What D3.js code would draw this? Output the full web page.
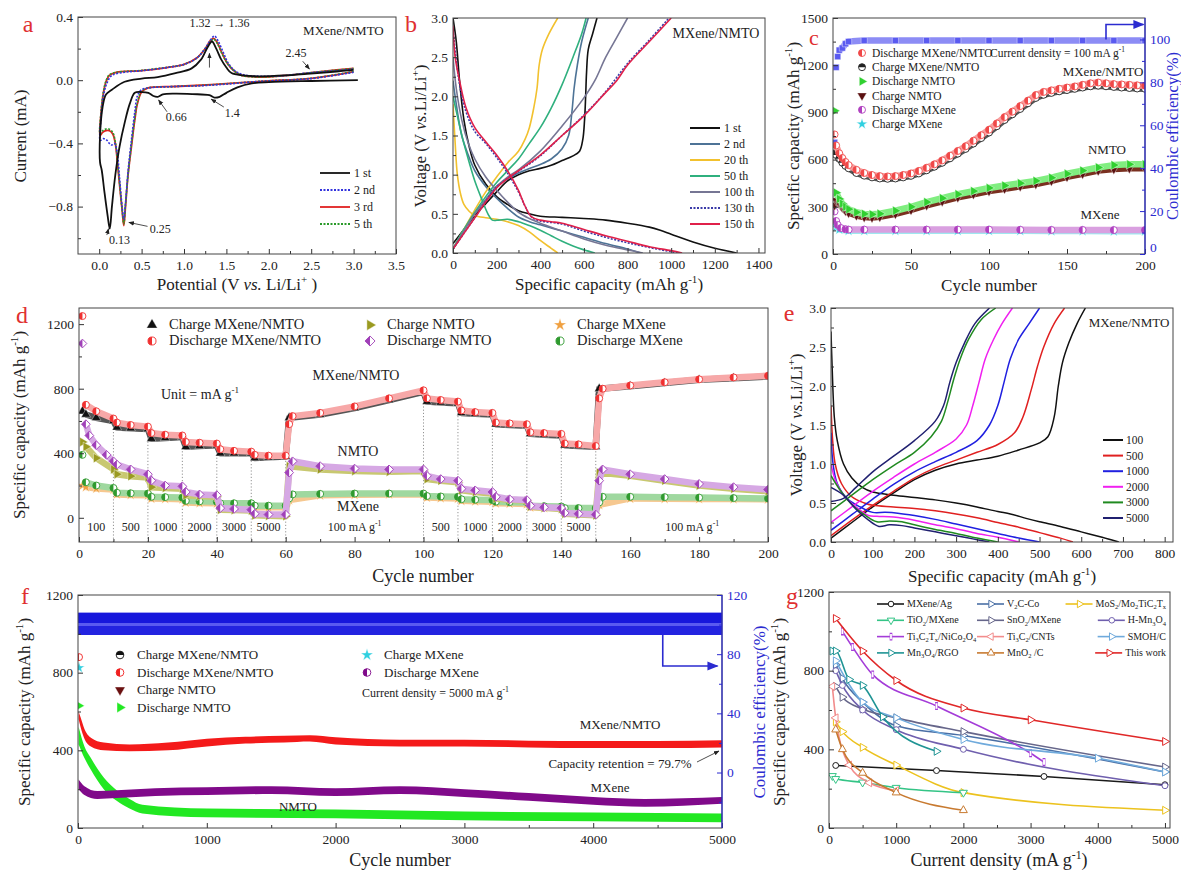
<!DOCTYPE html>
<html>
<head>
<meta charset="utf-8">
<script src="https://cdn.jsdelivr.net/npm/d3@7"></script>
<style>
  body { margin: 0; background: #fff; }
  svg text { font-family: "Liberation Serif", "Times New Roman", serif; }
</style>
</head>
<body>
<svg id="fig" width="1181" height="873"></svg>
<script>
// ---------------- data ----------------
// (a) cyclic voltammetry, [potential V, current mA]
const cvNames = ['1 st', '2 nd', '3 rd', '5 th'];
const cv1 = [[3.05,0],[2.5,-0.005],[2.0,-0.012],[1.8,-0.02],[1.63,-0.045],[1.5,-0.08],[1.42,-0.105],[1.36,-0.11],[1.3,-0.095],[1.1,-0.088],[0.89,-0.085],[0.75,-0.09],[0.69,-0.105],[0.64,-0.1],[0.58,-0.08],[0.5,-0.075],[0.42,-0.08],[0.36,-0.15],[0.3,-0.27],[0.24,-0.42],[0.19,-0.6],[0.15,-0.8],[0.125,-0.94],[0.1,-0.86],[0.06,-0.7],[0.03,-0.57],[0.01,-0.52],[0.01,-0.35],[0.04,-0.17],[0.08,-0.09],[0.15,-0.06],[0.3,-0.01],[0.5,0.01],[0.69,0.02],[0.9,0.045],[1.09,0.075],[1.2,0.13],[1.28,0.21],[1.33,0.245],[1.38,0.2],[1.44,0.13],[1.5,0.08],[1.56,0.045],[1.7,0.03],[1.83,0.025],[2.2,0.03],[2.45,0.04],[2.8,0.055],[3.0,0.065]];
const cv2 = [[3.0,0.05],[2.5,0.01],[2.0,-0.005],[1.83,-0.01],[1.5,-0.025],[1.2,-0.035],[0.89,-0.04],[0.6,-0.048],[0.5,-0.06],[0.45,-0.1],[0.42,-0.2],[0.38,-0.38],[0.34,-0.58],[0.31,-0.78],[0.29,-0.88],[0.27,-0.8],[0.24,-0.62],[0.21,-0.45],[0.18,-0.4],[0.15,-0.41],[0.12,-0.4],[0.09,-0.38],[0.05,-0.37],[0.02,-0.38],[0.01,-0.38],[0.02,-0.25],[0.05,-0.1],[0.09,-0.02],[0.15,0.03],[0.3,0.05],[0.5,0.06],[0.8,0.08],[1.0,0.1],[1.15,0.14],[1.25,0.2],[1.32,0.26],[1.36,0.28],[1.4,0.25],[1.46,0.18],[1.52,0.11],[1.6,0.06],[1.7,0.035],[1.9,0.025],[2.2,0.03],[2.45,0.045],[2.8,0.06],[3.0,0.07]];
const cv3 = [[3.0,0.055],[2.5,0.012],[2.0,-0.004],[1.83,-0.01],[1.5,-0.022],[1.2,-0.032],[0.89,-0.04],[0.57,-0.05],[0.5,-0.075],[0.45,-0.15],[0.42,-0.25],[0.38,-0.42],[0.34,-0.6],[0.31,-0.8],[0.29,-0.92],[0.27,-0.82],[0.24,-0.66],[0.22,-0.55],[0.19,-0.4],[0.16,-0.34],[0.12,-0.32],[0.07,-0.32],[0.04,-0.33],[0.01,-0.35],[0.02,-0.22],[0.05,-0.08],[0.08,-0.01],[0.12,0.03],[0.2,0.05],[0.5,0.06],[0.8,0.08],[1.0,0.1],[1.15,0.14],[1.25,0.2],[1.31,0.25],[1.35,0.265],[1.39,0.24],[1.45,0.17],[1.52,0.1],[1.6,0.055],[1.68,0.03],[1.9,0.02],[2.2,0.03],[2.45,0.045],[2.8,0.065],[3.0,0.075]];
const cv5 = [[3.0,0.055],[2.5,0.012],[2.0,-0.004],[1.83,-0.01],[1.5,-0.022],[1.2,-0.033],[0.89,-0.04],[0.57,-0.05],[0.5,-0.07],[0.45,-0.14],[0.42,-0.24],[0.38,-0.41],[0.34,-0.6],[0.31,-0.79],[0.29,-0.91],[0.27,-0.82],[0.24,-0.65],[0.22,-0.54],[0.19,-0.39],[0.16,-0.33],[0.12,-0.31],[0.07,-0.31],[0.04,-0.32],[0.01,-0.34],[0.02,-0.21],[0.05,-0.07],[0.08,-0.005],[0.12,0.035],[0.2,0.05],[0.5,0.062],[0.8,0.082],[1.0,0.1],[1.15,0.14],[1.25,0.2],[1.31,0.245],[1.35,0.26],[1.39,0.235],[1.45,0.165],[1.52,0.1],[1.6,0.055],[1.68,0.03],[1.9,0.02],[2.2,0.03],[2.45,0.045],[2.8,0.064],[3.0,0.074]];

// (b) charge/discharge profiles, [capacity mAh/g, voltage V]
const bNames = ['1 st', '2 nd', '20 th', '50 th', '100 th', '130 th', '150 th'];
const b1D = [[0,3.0],[15,2.7],[30,2.2],[50,1.7],[75,1.35],[100,1.12],[150,0.88],[200,0.72],[250,0.62],[300,0.54],[350,0.5],[400,0.47],[500,0.455],[600,0.44],[700,0.42],[800,0.38],[900,0.33],[950,0.29],[1000,0.24],[1100,0.14],[1200,0.06],[1300,0.0]];
const b1C = [[0,0.12],[50,0.3],[100,0.48],[150,0.63],[200,0.78],[250,0.92],[300,1.0],[350,1.05],[400,1.08],[450,1.12],[500,1.18],[550,1.24],[580,1.3],[595,1.45],[603,1.7],[608,2.0],[612,2.3],[620,2.6],[640,2.8],[660,3.0]];
const b2D = [[0,2.2],[15,1.9],[40,1.5],[70,1.25],[100,1.05],[150,0.85],[200,0.7],[250,0.57],[300,0.46],[350,0.4],[400,0.36],[500,0.28],[600,0.2],[700,0.12],[800,0.05],[860,0.0]];
const b2C = [[0,0.05],[50,0.3],[100,0.5],[150,0.68],[200,0.85],[250,0.95],[300,1.02],[350,1.08],[400,1.13],[450,1.2],[500,1.33],[530,1.5],[545,1.8],[555,2.1],[570,2.4],[590,2.7],[620,3.0]];
const b20D = [[0,1.9],[10,1.4],[20,1.0],[35,0.75],[50,0.62],[75,0.53],[100,0.48],[150,0.45],[200,0.43],[250,0.4],[300,0.35],[350,0.27],[400,0.16],[450,0.06],[480,0.0]];
const b20C = [[0,0.05],[50,0.3],[100,0.55],[150,0.78],[200,0.97],[250,1.15],[300,1.3],[330,1.45],[350,1.6],[370,1.85],[385,2.1],[395,2.4],[410,2.6],[440,2.8],[480,3.0]];
const b50D = [[0,2.0],[20,1.75],[45,1.45],[75,1.15],[100,0.92],[130,0.7],[160,0.5],[180,0.42],[210,0.42],[250,0.43],[300,0.4],[350,0.35],[400,0.29],[450,0.22],[500,0.15],[550,0.09],[600,0.04],[650,0.0]];
const b50C = [[0,0.05],[50,0.3],[100,0.52],[150,0.72],[200,0.9],[250,1.05],[300,1.2],[350,1.4],[400,1.6],[450,1.85],[500,2.15],[550,2.5],[590,2.8],[610,3.0]];
const b100D = [[0,2.5],[15,2.1],[40,1.7],[70,1.4],[100,1.2],[150,0.97],[200,0.8],[250,0.65],[300,0.52],[350,0.44],[400,0.38],[500,0.28],[600,0.18],[700,0.1],[800,0.04],[870,0.0]];
const b100C = [[0,0.05],[50,0.28],[100,0.5],[150,0.68],[200,0.85],[250,0.97],[300,1.06],[400,1.3],[500,1.62],[600,1.98],[650,2.2],[700,2.5],[750,2.75],[800,3.0]];
const b130D = [[0,2.85],[30,2.15],[60,1.8],[100,1.55],[150,1.4],[200,1.22],[250,1.02],[300,0.78],[330,0.6],[360,0.46],[400,0.41],[500,0.37],[600,0.28],[700,0.2],[800,0.13],[900,0.07],[1030,0.0]];
const b130C = [[0,0.05],[50,0.25],[100,0.45],[200,0.84],[300,1.04],[400,1.24],[500,1.5],[600,1.76],[700,2.06],[800,2.42],[900,2.72],[990,3.0]];
const b150D = [[0,2.9],[10,2.5],[30,2.2],[60,1.85],[100,1.6],[150,1.42],[200,1.25],[250,1.05],[300,0.8],[330,0.6],[360,0.46],[400,0.42],[450,0.4],[500,0.38],[600,0.3],[700,0.22],[800,0.15],[900,0.08],[1000,0.03],[1050,0.0]];
const b150C = [[0,0.05],[50,0.25],[100,0.45],[150,0.65],[200,0.83],[250,0.95],[300,1.05],[400,1.25],[500,1.5],[600,1.75],[700,2.05],[750,2.2],[800,2.4],[900,2.7],[1000,3.0]];

// (c) cycling at 100 mA/g, [cycle, mAh/g] and CE [cycle, %]
const cNames = ['Discharge MXene/NMTO', 'Charge MXene/NMTO', 'Discharge NMTO', 'Charge NMTO', 'Discharge MXene', 'Charge MXene'];
const cDisMN = [[1,760],[2,690],[4,640],[6,610],[8,585],[10,565],[15,535],[20,515],[25,502],[30,495],[35,493],[40,495],[45,502],[50,512],[55,528],[60,548],[65,570],[70,595],[75,625],[80,655],[85,685],[90,720],[95,755],[100,790],[105,830],[110,870],[115,905],[120,940],[125,975],[130,1010],[135,1030],[140,1040],[145,1050],[150,1058],[155,1065],[160,1075],[165,1085],[170,1090],[175,1085],[180,1080],[185,1078],[190,1075],[195,1072],[200,1070]];
const cChgMN = [[1,640],[2,630],[4,605],[6,580],[8,560],[10,545],[15,515],[20,498],[25,487],[30,480],[35,478],[40,480],[45,487],[50,497],[55,512],[60,532],[65,555],[70,580],[75,608],[80,638],[85,668],[90,702],[95,737],[100,772],[105,812],[110,852],[115,888],[120,922],[125,958],[130,992],[135,1012],[140,1024],[145,1034],[150,1042],[155,1050],[160,1058],[165,1066],[170,1070],[175,1066],[180,1062],[185,1058],[190,1055],[195,1052],[200,1050]];
const cDisNM = [[1,910],[2,390],[4,350],[6,320],[8,300],[10,285],[15,265],[20,255],[25,252],[30,256],[40,275],[50,300],[60,330],[70,355],[80,380],[90,400],[100,420],[110,435],[120,450],[130,465],[140,485],[150,510],[160,530],[170,550],[180,565],[190,570],[200,570]];
const cChgNM = [[1,310],[2,340],[4,320],[6,295],[8,275],[10,262],[15,245],[20,235],[25,232],[30,236],[40,255],[50,280],[60,310],[70,335],[80,360],[90,380],[100,400],[110,415],[120,430],[130,445],[140,465],[150,490],[160,510],[170,530],[180,540],[190,545],[200,545]];
const cDisMX = [[1,270],[2,210],[3,185],[5,165],[8,158],[10,155],[20,155],[40,155],[60,155],[80,155],[100,155],[120,154],[140,153],[160,153],[180,152],[200,152]];
const cChgMX = [[1,190],[2,170],[4,155],[10,148],[20,148],[40,148],[60,148],[80,147],[100,147],[120,147],[140,146],[160,146],[180,145],[200,145]];
const cCE = [[1,52],[2,87],[3,92],[4,95],[6,96],[8,98],[10,99],[20,99.5],[40,99.5],[60,99.5],[80,99.5],[100,99.5],[120,99.5],[140,99.5],[160,99.5],[180,99.5],[200,99.5]];

// (d) rate capability
const dNames = ['Charge MXene/NMTO', 'Discharge MXene/NMTO', 'Charge NMTO', 'Discharge NMTO', 'Charge MXene', 'Discharge MXene'];
const dRates = ['100', '500', '1000', '2000', '3000', '5000', '100 mA g^{-1}', '500', '1000', '2000', '3000', '5000', '100 mA g^{-1}'];
const dRateMid = [5, 15, 25, 35, 45, 55, 80, 105, 115, 125, 135, 145, 178];
const dSteps = [10, 20, 30, 40, 50, 60, 100, 110, 120, 130, 140, 150];
const dDisMN = [[1,1250],[2,700],[5,660],[10,615],[11,590],[15,575],[20,565],[21,525],[25,515],[30,510],[31,470],[35,465],[40,460],[41,425],[45,415],[50,410],[51,390],[55,385],[60,385],[61,580],[62,630],[70,650],[80,690],[90,740],[100,790],[101,740],[105,730],[110,720],[111,665],[115,655],[120,650],[121,590],[125,585],[130,580],[131,530],[135,525],[140,520],[141,460],[145,455],[150,445],[151,740],[152,800],[160,820],[170,840],[180,858],[190,870],[200,880]];
const dChgMN = [[1,660],[2,640],[5,620],[10,600],[11,560],[15,555],[20,550],[21,490],[25,495],[30,500],[31,440],[35,445],[40,450],[41,400],[45,400],[50,400],[51,370],[55,375],[60,380],[61,620],[70,640],[80,680],[90,730],[100,780],[101,720],[105,715],[110,710],[111,650],[115,645],[120,640],[121,580],[125,575],[130,570],[131,520],[135,515],[140,510],[141,450],[145,445],[150,440],[151,800],[160,815],[170,835],[180,855],[190,865],[200,875]];
const dChgNM = [[1,470],[2,440],[5,370],[10,300],[11,270],[15,258],[20,250],[21,190],[25,185],[30,180],[31,140],[35,135],[40,130],[41,50],[45,48],[50,45],[51,15],[55,12],[60,10],[61,320],[70,300],[80,290],[90,285],[100,290],[101,240],[105,230],[110,220],[111,170],[115,160],[120,150],[121,120],[125,112],[130,105],[131,70],[135,62],[140,55],[141,25],[145,20],[150,15],[151,280],[160,260],[170,230],[180,200],[190,180],[200,165]];
const dDisNM = [[1,1080],[2,580],[3,510],[5,450],[8,390],[10,350],[11,330],[15,300],[20,270],[21,230],[25,200],[30,195],[31,160],[35,145],[40,140],[41,60],[45,55],[50,50],[51,25],[55,20],[60,20],[61,280],[62,350],[70,320],[80,305],[90,300],[100,300],[101,260],[105,240],[110,230],[111,180],[115,170],[120,160],[121,130],[125,115],[130,110],[131,75],[135,65],[140,60],[141,30],[145,25],[150,20],[151,230],[152,300],[160,270],[170,240],[180,210],[190,190],[200,175]];
const dChgMX = [[1,200],[2,190],[5,182],[10,175],[11,145],[15,142],[20,140],[21,120],[25,118],[30,115],[31,95],[35,92],[40,90],[41,80],[45,80],[50,80],[51,65],[55,65],[60,65],[61,110],[70,140],[80,143],[90,145],[100,145],[101,125],[105,122],[110,120],[111,105],[115,102],[120,100],[121,90],[125,88],[130,85],[131,65],[135,62],[140,60],[141,50],[145,50],[150,50],[151,80],[160,120],[170,118],[180,117],[190,116],[200,115]];
const dDisMX = [[1,390],[2,220],[5,200],[10,185],[11,155],[15,152],[20,150],[21,130],[25,128],[30,125],[31,105],[35,102],[40,100],[41,90],[45,90],[50,90],[51,75],[55,75],[60,75],[61,120],[62,145],[70,148],[80,150],[90,150],[100,150],[101,135],[105,132],[110,130],[111,115],[115,112],[120,110],[121,100],[125,97],[130,95],[131,75],[135,72],[140,70],[141,60],[145,60],[150,60],[151,95],[152,130],[160,130],[170,128],[180,125],[190,122],[200,120]];

// (e) profiles at different current densities (mA/g)
const eNames = ['100', '500', '1000', '2000', '3000', '5000'];
const e100D = [[0,2.7],[3,2.2],[8,1.6],[15,1.3],[30,1.0],[50,0.82],[75,0.7],[100,0.64],[150,0.6],[200,0.57],[250,0.54],[300,0.5],[350,0.45],[400,0.39],[430,0.36],[470,0.3],[500,0.26],[550,0.2],[600,0.13],[650,0.06],[690,0.0]];
const e100C = [[0,0.05],[50,0.25],[100,0.45],[150,0.63],[200,0.8],[250,0.92],[300,1.0],[350,1.05],[400,1.1],[450,1.18],[500,1.27],[520,1.35],[535,1.6],[545,2.0],[555,2.3],[570,2.55],[590,2.8],[610,3.0]];
const e500D = [[0,1.75],[4,1.3],[10,1.0],[25,0.75],[50,0.58],[80,0.5],[100,0.47],[150,0.45],[200,0.43],[250,0.4],[300,0.36],[350,0.31],[400,0.25],[450,0.19],[500,0.12],[550,0.05],[580,0.0]];
const e500C = [[0,0.08],[50,0.28],[100,0.47],[150,0.65],[200,0.82],[250,0.95],[300,1.05],[350,1.15],[400,1.25],[440,1.4],[460,1.6],[480,1.95],[495,2.25],[510,2.5],[535,2.8],[560,3.0]];
const e1000D = [[0,1.4],[5,1.0],[15,0.75],[40,0.55],[70,0.45],[100,0.38],[130,0.38],[160,0.37],[200,0.34],[250,0.29],[300,0.23],[350,0.17],[400,0.11],[450,0.05],[500,0.0]];
const e1000C = [[0,0.15],[50,0.35],[100,0.55],[150,0.74],[200,0.9],[250,1.03],[300,1.15],[350,1.3],[380,1.5],[400,1.75],[415,2.05],[430,2.35],[450,2.6],[475,2.8],[500,3.0]];
const e2000D = [[0,1.0],[10,0.8],[30,0.6],[60,0.45],[90,0.34],[110,0.33],[150,0.32],[200,0.28],[250,0.22],[300,0.17],[350,0.11],[400,0.06],[450,0.0]];
const e2000C = [[0,0.25],[50,0.45],[100,0.65],[150,0.83],[200,1.0],[250,1.15],[300,1.32],[325,1.5],[340,1.75],[355,2.05],[370,2.35],[390,2.6],[410,2.8],[435,3.0]];
const e3000D = [[0,0.85],[20,0.68],[50,0.48],[80,0.35],[110,0.26],[140,0.27],[170,0.26],[200,0.22],[250,0.16],[300,0.11],[350,0.05],[400,0.0]];
const e3000C = [[0,0.4],[50,0.6],[100,0.8],[150,0.98],[200,1.15],[240,1.35],[265,1.55],[280,1.8],[295,2.1],[310,2.35],[330,2.6],[360,2.85],[395,3.0]];
const e5000D = [[0,0.7],[30,0.6],[60,0.42],[90,0.28],[115,0.2],[140,0.22],[170,0.21],[200,0.18],[250,0.13],[300,0.08],[340,0.04],[380,0.0]];
const e5000C = [[0,0.52],[30,0.56],[60,0.7],[100,0.9],[150,1.1],[200,1.3],[250,1.55],[270,1.75],[285,2.05],[300,2.3],[320,2.55],[345,2.8],[380,3.0]];

// (f) long cycling at 5000 mA/g: bands [cycle, low, high]
const fNames = ['Charge MXene/NMTO', 'Discharge MXene/NMTO', 'Charge NMTO', 'Discharge NMTO', 'Charge MXene', 'Discharge MXene'];
const fMN = [[5,560,600],[20,520,570],[50,460,510],[100,420,465],[200,400,440],[400,395,430],[700,400,440],[1000,420,460],[1300,435,470],[1600,440,475],[1800,445,478],[2000,430,468],[2500,420,455],[3000,420,455],[3500,415,450],[4000,412,448],[4500,412,448],[5000,415,452]];
const fMX = [[5,200,250],[50,170,215],[150,150,190],[300,155,195],[600,165,205],[1000,170,210],[1500,175,215],[2000,165,205],[2500,175,215],[3000,160,200],[3500,140,180],[4000,120,160],[4400,110,150],[5000,125,160]];
const fNM = [[5,430,520],[50,360,420],[100,300,360],[200,200,260],[300,140,195],[400,100,150],[500,75,120],[1000,55,100],[2000,50,95],[3000,40,85],[4000,35,80],[5000,30,75]];
// CE: two dense rows of points, [cycle, low, high] for each row
const fCEhi = [[1,101,108],[1000,101,108],[2000,101,108],[3000,101,108],[4000,101,108],[5000,101,108]];
const fCElo = [[1,93,99],[1000,93,99],[2000,93,99],[3000,93,99],[4000,93,99],[5000,93,99]];
const fFirstDisMN = 880, fFirstChgMX = 825, fFirstDisNM = 630;

// (g) comparison with literature, [current mA/g, mAh/g]
const gNames = ['MXene/Ag', 'V_{2}C-Co', 'MoS_{2}/Mo_{2}TiC_{2}T_{x}', 'TiO_{2}/MXene', 'SnO_{2}/MXene', 'H-Mn_{3}O_{4}', 'Ti_{3}C_{2}T_{x}/NiCo_{2}O_{4}', 'Ti_{3}C_{2}/CNTs', 'SMOH/C', 'Mn_{3}O_{4}/RGO', 'MnO_{2} /C', 'This work'];
const gMXAg = [[100,318],[1600,292],[3200,262],[5000,220]];
const gV2C = [[100,830],[200,760],[500,640],[1000,520],[2000,470],[5000,285]];
const gMoS2 = [[100,540],[200,490],[500,410],[1000,320],[2000,180],[5000,90]];
const gTiO2 = [[50,265],[100,250],[500,232],[1000,205],[2000,180]];
const gSnO2 = [[100,720],[200,665],[500,605],[1000,560],[2000,490],[5000,310]];
const gHMn = [[100,800],[200,725],[500,600],[1000,500],[2000,400],[5000,215]];
const gNiCo = [[200,1000],[350,920],[650,780],[1600,620],[3000,380],[3200,335]];
const gCNT = [[50,720],[100,560],[300,320],[600,230],[1000,190]];
const gSMOH = [[100,850],[500,640],[1000,560],[2000,450],[4000,355],[5000,285]];
const gMnRGO = [[50,900],[100,900],[300,755],[500,725],[800,565],[1600,390]];
const gMnO2 = [[100,500],[200,400],[500,280],[1000,180],[2000,90]];
const gThis = [[100,1065],[500,900],[1000,750],[2000,610],[3000,550],[5000,440]];

// ---------------- helpers ----------------
const FONT = '"Liberation Serif", "Times New Roman", serif';
const BLUE = '#2b2bd0';
const svg = d3.select('#fig');
const defs = svg.append('defs');
[['arBlue', BLUE], ['arBlack', '#222']].forEach(([id, c]) => {
  defs.append('marker').attr('id', id).attr('viewBox', '0 0 10 10').attr('refX', 9).attr('refY', 5)
    .attr('markerWidth', 7).attr('markerHeight', 7).attr('orient', 'auto')
    .append('path').attr('d', 'M0,1L10,5L0,9Z').attr('fill', c);
});

// text with ^{sup}, _{sub}, *italic*
function rich(t, str, size) {
  const parts = str.split(/(\^\{[^}]*\}|_\{[^}]*\}|\*[^*]*\*)/).filter(s => s.length);
  let off = 0;
  parts.forEach(p => {
    const ts = t.append('tspan');
    let dy = 0;
    if (p.startsWith('^{')) { ts.text(p.slice(2, -1)).attr('font-size', size * 0.65); dy = -size * 0.4; }
    else if (p.startsWith('_{')) { ts.text(p.slice(2, -1)).attr('font-size', size * 0.65); dy = size * 0.22; }
    else if (p.startsWith('*')) ts.text(p.slice(1, -1)).attr('font-style', 'italic');
    else ts.text(p);
    if (dy - off !== 0) ts.attr('dy', dy - off);
    off = dy;
  });
}
function label(x, y, str, o = {}) {
  const size = o.size || 13;
  const t = svg.append('text').attr('x', x).attr('y', y).attr('font-size', size)
    .attr('text-anchor', o.anchor || 'start').attr('fill', o.fill || '#222');
  if (o.rotate) t.attr('transform', `rotate(-90,${x},${y})`);
  rich(t, str, size);
  return t;
}
let clipN = 0;
function panel(box, xd, yd) {
  const id = 'clip' + (clipN++);
  defs.append('clipPath').attr('id', id).append('rect')
    .attr('x', box.l).attr('y', box.t).attr('width', box.r - box.l).attr('height', box.b - box.t);
  const g = svg.append('g');
  const plot = g.append('g').attr('clip-path', `url(#${id})`);
  const x = d3.scaleLinear().domain(xd).range([box.l, box.r]);
  const y = d3.scaleLinear().domain(yd).range([box.b, box.t]);
  return { g, plot, x, y, box };
}
function styleAxis(s, color) {
  s.select('.domain').remove();
  s.selectAll('line').attr('stroke', color || '#333');
  s.selectAll('text').attr('font-family', FONT).attr('font-size', 13.5).attr('fill', color || '#222');
}
function axes(p, o) {
  const { g, x, y, box } = p;
  const add = (axis, tr, c) => g.append('g').attr('transform', tr).call(axis).call(s => styleAxis(s, c));
  add(d3.axisBottom(x).tickValues(o.xMinor).tickSize(-3).tickFormat(''), `translate(0,${box.b})`);
  add(d3.axisBottom(x).tickValues(o.xMajor).tickSize(-5).tickPadding(6).tickFormat(o.xFmt), `translate(0,${box.b})`);
  add(d3.axisLeft(y).tickValues(o.yMinor).tickSize(-3).tickFormat(''), `translate(${box.l},0)`);
  add(d3.axisLeft(y).tickValues(o.yMajor).tickSize(-5).tickPadding(5).tickFormat(o.yFmt), `translate(${box.l},0)`);
  g.append('rect').attr('x', box.l).attr('y', box.t).attr('width', box.r - box.l).attr('height', box.b - box.t)
    .attr('fill', 'none').attr('stroke', '#444').attr('stroke-width', 1);
}
function rightAxis(p, y2, major, minor) {
  const { g, box } = p;
  const add = (axis) => g.append('g').attr('transform', `translate(${box.r},0)`).call(axis).call(s => styleAxis(s, BLUE));
  add(d3.axisRight(y2).tickValues(minor).tickSize(-3).tickFormat(''));
  add(d3.axisRight(y2).tickValues(major).tickSize(-5).tickPadding(5).tickFormat(d3.format('d')))
    .selectAll('text').attr('dy', d => (y2(d) > box.b - 3 ? '-0.15em' : '0.3em'));
  g.append('line').attr('x1', box.r).attr('x2', box.r).attr('y1', box.t).attr('y2', box.b)
    .attr('stroke', BLUE).attr('stroke-width', 1.2);
}
function curve(p, data, color, w = 1.5, dash = null, y = p.y) {
  p.plot.append('path').datum(data)
    .attr('d', d3.line().x(d => p.x(d[0])).y(d => y(d[1])).curve(d3.curveCatmullRom.alpha(0.5)))
    .attr('fill', 'none').attr('stroke', color).attr('stroke-width', w)
    .attr('stroke-dasharray', dash).attr('stroke-linejoin', 'round');
}
function mark(g, type, cx, cy, col, sc = 1, open = false) {
  const r = 3.5 * sc;
  const t = `translate(${cx},${cy})`;
  if (type === 'half' || type === 'halfTop' || type === 'halfDiamond') {
    const m = g.append('g').attr('transform', t);
    if (type === 'halfDiamond') {
      const q = r * 1.25;
      m.append('path').attr('d', `M0,${-q}L${q},0L0,${q}L${-q},0Z`).attr('fill', '#fff').attr('stroke', col).attr('stroke-width', 0.9);
      m.append('path').attr('d', `M0,${-q}L${-q},0L0,${q}Z`).attr('fill', col);
    } else {
      m.append('circle').attr('r', r).attr('fill', '#fff').attr('stroke', col).attr('stroke-width', 0.9);
      const d = type === 'half' ? `M0,${-r}A${r},${r} 0 0 0 0,${r}Z` : `M${-r},0A${r},${r} 0 0 1 ${r},0Z`;
      m.append('path').attr('d', d).attr('fill', col);
    }
    return;
  }
  const sym = {
    triUp: [d3.symbolTriangle, 0], triDown: [d3.symbolTriangle, 180], triRight: [d3.symbolTriangle, 90],
    triLeft: [d3.symbolTriangle, -90], star: [d3.symbolStar, 0], square: [d3.symbolSquare, 0],
    diamond: [d3.symbolDiamond, 0], circle: [d3.symbolCircle, 0], bar: [d3.symbolSquare, 0]
  }[type];
  const path = g.append('path').attr('d', d3.symbol(sym[0], 38 * sc * sc)())
    .attr('transform', `${t} rotate(${sym[1]})${type === 'bar' ? ' scale(0.45,1.3)' : ''}`);
  if (open) path.attr('fill', '#fff').attr('stroke', col).attr('stroke-width', 1);
  else path.attr('fill', col).attr('stroke', '#fff').attr('stroke-width', 0.4);
}
// dense marker series: thick band through the read points, markers on the points
function dotted(p, data, type, col, band, from = 1, y = p.y) {
  p.plot.append('path').datum(data.slice(from))
    .attr('d', d3.line().x(d => p.x(d[0])).y(d => y(d[1])))
    .attr('fill', 'none').attr('stroke', band).attr('stroke-width', 6.5).attr('stroke-linejoin', 'round');
  data.forEach(d => mark(p.plot, type, p.x(d[0]), y(d[1]), col));
}
function arrow(pts, id, w = 1) {
  svg.append('path').attr('d', d3.line()(pts)).attr('fill', 'none')
    .attr('stroke', id === 'arBlue' ? BLUE : '#222').attr('stroke-width', w).attr('marker-end', `url(#${id})`);
}
function letter(x, y, s, size = 24) {
  svg.append('text').attr('x', x).attr('y', y).attr('font-size', size).attr('fill', '#e03030').attr('text-anchor', 'middle').text(s);
}
const f1 = d3.format('.1f'), fd = d3.format('d');
const range = (a, b, s) => d3.range(a, b + s / 2, s);

// ---------------- (a) ----------------
{
  const p = panel({ l: 78, r: 396, t: 17, b: 254 }, [-0.25, 3.5], [-1.1, 0.4]);
  axes(p, { xMajor: range(0, 3.5, 0.5), xMinor: range(0.25, 3.25, 0.5), xFmt: f1,
            yMajor: [-0.8, -0.4, 0, 0.4], yMinor: [-1.0, -0.6, -0.2, 0.2], yFmt: f1 });
  const styles = [['#e02020', null, 1.8], ['#2a9a2a', '2,1.5', 1.6], ['#3333dd', '2,1.5', 1.6], ['#111', null, 1.8]];
  [cv3, cv5, cv2, cv1].forEach((d, i) => curve(p, d, styles[i][0], styles[i][2], styles[i][1]));
  const leg = [['#111', null], ['#3333dd', '2,1.5'], ['#e02020', null], ['#2a9a2a', '2,1.5']];
  cvNames.forEach((n, i) => {
    const yy = 173 + i * 17;
    svg.append('line').attr('x1', 320).attr('x2', 350).attr('y1', yy).attr('y2', yy)
      .attr('stroke', leg[i][0]).attr('stroke-width', 1.8).attr('stroke-dasharray', leg[i][1]);
    label(354, yy + 4, n, { size: 12 });
  });
  const X = p.x, Y = p.y;
  label(X(1.42), Y(0.335), '1.32 \u2192 1.36', { size: 12, anchor: 'middle' });
  arrow([[X(1.30), Y(0.08)], [X(1.30), Y(0.17)]], 'arBlack', 0.8);
  label(X(2.88), Y(0.285), 'MXene/NMTO', { size: 13, anchor: 'middle' });
  label(X(2.32), Y(0.15), '2.45', { size: 12, anchor: 'middle' });
  arrow([[X(2.40), Y(0.12)], [X(2.48), Y(0.07)]], 'arBlack', 0.8);
  label(X(0.91), Y(-0.26), '0.66', { size: 12, anchor: 'middle' });
  arrow([[X(0.80), Y(-0.2)], [X(0.70), Y(-0.125)]], 'arBlack', 0.8);
  label(X(1.57), Y(-0.23), '1.4', { size: 12, anchor: 'middle' });
  arrow([[X(1.47), Y(-0.17)], [X(1.32), Y(-0.12)]], 'arBlack', 0.8);
  label(X(0.72), Y(-0.965), '0.25', { size: 12, anchor: 'middle' });
  arrow([[X(0.57), Y(-0.925)], [X(0.35), Y(-0.9)]], 'arBlack', 0.8);
  label(X(0.24), Y(-1.035), '0.13', { size: 12, anchor: 'middle' });
  arrow([[X(0.09), Y(-0.98)], [X(0.11), Y(-0.94)]], 'arBlack', 0.8);
  label(237, 290, 'Potential (V *vs.* Li/Li^{+} )', { size: 17, anchor: 'middle' });
  label(26, 136, 'Current (mA)', { size: 17, anchor: 'middle', rotate: true });
  letter(28, 32, 'a');
}

// ---------------- (b) ----------------
{
  const p = panel({ l: 453, r: 765, t: 18, b: 253 }, [0, 1430], [0, 3]);
  axes(p, { xMajor: range(0, 1400, 200), xMinor: range(100, 1300, 200), xFmt: fd,
            yMajor: range(0, 3, 0.5), yMinor: range(0.25, 2.75, 0.5), yFmt: f1 });
  const cols = ['#111', '#4d7396', '#f2c12e', '#2fb07e', '#767694', '#3a3aa8', '#e0204a'];
  const sets = [[b1D, b1C], [b2D, b2C], [b20D, b20C], [b50D, b50C], [b100D, b100C], [b130D, b130C], [b150D, b150C]];
  sets.forEach((s, i) => s.forEach(d => curve(p, d, cols[i], 1.6, i === 5 ? '2,1.5' : null)));
  bNames.forEach((n, i) => {
    const yy = 128 + i * 16;
    svg.append('line').attr('x1', 690).attr('x2', 720).attr('y1', yy).attr('y2', yy)
      .attr('stroke', cols[i]).attr('stroke-width', 2).attr('stroke-dasharray', i === 5 ? '2,1.5' : null);
    label(724, yy + 4, n, { size: 12 });
  });
  label(716, 38, 'MXene/NMTO', { size: 14, anchor: 'middle' });
  label(609, 290, 'Specific capacity (mAh g^{-1})', { size: 17, anchor: 'middle' });
  label(426, 136, 'Voltage (V *vs.*Li/Li^{+})', { size: 17, anchor: 'middle', rotate: true });
  letter(411, 32, 'b');
}

// ---------------- (c) ----------------
{
  const p = panel({ l: 833, r: 1145, t: 18, b: 254 }, [0, 200], [0, 1500]);
  const y2 = d3.scaleLinear().domain([0, 110]).range([254, 18]);
  axes(p, { xMajor: range(0, 200, 50), xMinor: range(25, 175, 50), xFmt: fd,
            yMajor: range(0, 1500, 300), yMinor: range(150, 1350, 300), yFmt: fd });
  rightAxis(p, y2, range(0, 100, 20), range(10, 90, 20));
  dotted(p, cCE, 'square', '#5a5af0', '#8c8cf5', 3, y2);
  dotted(p, cChgMX, 'star', '#30d0e0', '#9fe8ef');
  dotted(p, cDisMX, 'half', '#b040c0', '#d9a0e0');
  dotted(p, cChgNM, 'triDown', '#5a1010', '#7a3020');
  dotted(p, cDisNM, 'triRight', '#30d030', '#80ee80');
  dotted(p, cChgMN, 'halfTop', '#222', '#555');
  dotted(p, cDisMN, 'half', '#f04848', '#f7a0a0');
  const legT = ['half', 'halfTop', 'triRight', 'triDown', 'half', 'star'];
  const legC = ['#f04848', '#222', '#30d030', '#5a1010', '#b040c0', '#30d0e0'];
  cNames.forEach((n, i) => {
    const yy = 57 + i * 14.2;
    mark(svg, legT[i], 862, yy - 4, legC[i]);
    label(872, yy, n, { size: 11.5 });
  });
  label(990, 57, 'Current density = 100 mA g^{-1}', { size: 11.5 });
  label(1103, 76, 'MXene/NMTO', { size: 13, anchor: 'middle' });
  label(1107, 154, 'NMTO', { size: 13, anchor: 'middle' });
  label(1100, 219, 'MXene', { size: 13, anchor: 'middle' });
  arrow([[p.x(175), y2(100)], [p.x(175), y2(107)], [p.x(199), y2(107)]], 'arBlue', 1.6);
  label(989, 291, 'Cycle number', { size: 17, anchor: 'middle' });
  label(799, 136, 'Specific capacity (mAh g^{-1})', { size: 17, anchor: 'middle', rotate: true });
  label(1178, 136, 'Coulombic efficiency(%)', { size: 16.5, anchor: 'middle', rotate: true, fill: BLUE });
  letter(814, 45, 'c', 22);
}

// ---------------- (d) ----------------
{
  const p = panel({ l: 79, r: 768, t: 308, b: 542 }, [0, 200], [-150, 1300]);
  axes(p, { xMajor: range(0, 200, 20), xMinor: range(10, 190, 20), xFmt: fd,
            yMajor: [0, 400, 800, 1200], yMinor: [200, 600, 1000], yFmt: fd });
  const look = new Map(dChgMN.map(d => [d[0], d[1]]));
  dSteps.forEach(c => {
    p.plot.append('line').attr('x1', p.x(c)).attr('x2', p.x(c)).attr('y1', p.y(-150)).attr('y2', p.y(look.get(c + 1)))
      .attr('stroke', '#777').attr('stroke-width', 0.8).attr('stroke-dasharray', '1.2,2');
  });
  dotted(p, dChgMX, 'star', '#f0a040', '#f6c890');
  dotted(p, dDisMX, 'half', '#2f9a2f', '#9fd89f');
  dotted(p, dChgNM, 'triRight', '#9a9a20', '#c8c870');
  dotted(p, dDisNM, 'halfDiamond', '#a040b8', '#d6a8e4');
  dotted(p, dChgMN, 'triUp', '#111', '#555');
  dotted(p, dDisMN, 'half', '#f03030', '#f7a8a8');
  const legT = ['triUp', 'half', 'triRight', 'halfDiamond', 'star', 'half'];
  const legC = ['#111', '#f03030', '#9a9a20', '#a040b8', '#f0a040', '#2f9a2f'];
  const colX = [152, 370, 560];
  dNames.forEach((n, i) => {
    const cx = colX[Math.floor(i / 2)], yy = 329 + (i % 2) * 16;
    mark(svg, legT[i], cx, yy - 4, legC[i], 1.15);
    label(cx + 17, yy, n, { size: 14.5 });
  });
  dRates.forEach((r, i) => label(p.x(dRateMid[i]), 531, r, { size: 12, anchor: 'middle' }));
  label(200, 399, 'Unit = mA g^{-1}', { size: 14, anchor: 'middle' });
  label(356, 380, 'MXene/NMTO', { size: 14, anchor: 'middle' });
  label(358, 456, 'NMTO', { size: 14, anchor: 'middle' });
  label(358, 511, 'MXene', { size: 14, anchor: 'middle' });
  label(423, 582, 'Cycle number', { size: 18, anchor: 'middle' });
  label(25, 425, 'Specific capacity (mAh g^{-1})', { size: 17, anchor: 'middle', rotate: true });
  letter(22, 323, 'd');
}

// ---------------- (e) ----------------
{
  const p = panel({ l: 831, r: 1173, t: 308, b: 542 }, [0, 820], [0, 3]);
  axes(p, { xMajor: range(0, 800, 100), xMinor: range(50, 750, 100), xFmt: fd,
            yMajor: range(0, 3, 0.5), yMinor: range(0.25, 2.75, 0.5), yFmt: f1 });
  const cols = ['#111', '#e02020', '#2020e0', '#f020f0', '#208a20', '#202070'];
  const sets = [[e100D, e100C], [e500D, e500C], [e1000D, e1000C], [e2000D, e2000C], [e3000D, e3000C], [e5000D, e5000C]];
  sets.forEach((s, i) => s.forEach(d => curve(p, d, cols[i], 1.5)));
  eNames.forEach((n, i) => {
    const yy = 440 + i * 15.6;
    svg.append('line').attr('x1', 1103).attr('x2', 1123).attr('y1', yy).attr('y2', yy)
      .attr('stroke', cols[i]).attr('stroke-width', 2);
    label(1126, yy + 4, n, { size: 11.5 });
  });
  label(1129, 327, 'MXene/NMTO', { size: 13, anchor: 'middle' });
  label(1002, 582, 'Specific capacity (mAh g^{-1})', { size: 17, anchor: 'middle' });
  label(802, 425, 'Voltage (V *vs.*Li/Li^{+})', { size: 17, anchor: 'middle', rotate: true });
  letter(789, 321, 'e');
}

// ---------------- (f) ----------------
{
  const p = panel({ l: 78, r: 722, t: 595, b: 828 }, [0, 5000], [0, 1200]);
  const y2 = d3.scaleLinear().domain([-37.5, 120]).range([828, 595]);
  axes(p, { xMajor: range(0, 5000, 1000), xMinor: range(500, 4500, 1000), xFmt: fd,
            yMajor: [0, 400, 800, 1200], yMinor: [200, 600, 1000], yFmt: fd });
  rightAxis(p, y2, [0, 40, 80, 120], [-20, 20, 60, 100]);
  const band = (data, col, y) => p.plot.append('path').datum(data)
    .attr('d', d3.area().x(d => p.x(d[0])).y0(d => y(d[1])).y1(d => y(d[2])).curve(d3.curveMonotoneX))
    .attr('fill', col);
  p.plot.append('path').datum(fCEhi.map((d, i) => [d[0], fCElo[i][1], d[2]]))
    .attr('d', d3.area().x(d => p.x(d[0])).y0(d => y2(d[1])).y1(d => y2(d[2])))
    .attr('fill', '#5a5af0');
  band(fCEhi, '#1717dc', y2);
  band(fCElo, '#2323e0', y2);
  band(fNM, '#22e822', p.y);
  band(fMX, '#800a8a', p.y);
  band(fMN, '#f41a1a', p.y);
  mark(p.plot, 'half', p.x(8), p.y(fFirstDisMN), '#f02020');
  mark(p.plot, 'star', p.x(8), p.y(fFirstChgMX), '#30d0e0');
  mark(p.plot, 'triRight', p.x(8), p.y(fFirstDisNM), '#22e822');
  const legT = ['halfTop', 'half', 'triDown', 'triRight', 'star', 'half'];
  const legC = ['#111', '#f02020', '#6a1010', '#22e822', '#30d0e0', '#800a8a'];
  fNames.forEach((n, i) => {
    const col = i < 4 ? 0 : 1, row = i < 4 ? i : i - 4;
    const cx = col ? 367 : 120, yy = 659 + row * 17.5;
    mark(svg, legT[i], cx, yy - 4, legC[i], 1.1);
    label(cx + 17, yy, n, { size: 13 });
  });
  label(362, 697, 'Current density = 5000 mA g^{-1}', { size: 12 });
  label(620, 729, 'MXene/NMTO', { size: 13, anchor: 'middle' });
  label(620, 768, 'Capacity retention = 79.7%', { size: 13, anchor: 'middle' });
  arrow([[697, 762], [719, 751]], 'arBlack', 0.8);
  label(610, 792, 'MXene', { size: 13, anchor: 'middle' });
  label(298, 811, 'NMTO', { size: 13, anchor: 'middle' });
  arrow([[p.x(4540), y2(93)], [p.x(4540), y2(72)], [p.x(4965), y2(72)]], 'arBlue', 1.6);
  label(400, 866, 'Cycle number', { size: 18, anchor: 'middle' });
  label(30, 712, 'Specific capacity (mAh g^{-1})', { size: 17, anchor: 'middle', rotate: true });
  label(765, 712, 'Coulombic efficiency(%)', { size: 17, anchor: 'middle', rotate: true, fill: BLUE });
  letter(25, 604, 'f');
}

// ---------------- (g) ----------------
{
  const p = panel({ l: 829, r: 1170, t: 592, b: 828 }, [0, 5075], [0, 1200]);
  axes(p, { xMajor: range(0, 5000, 1000), xMinor: range(500, 4500, 1000), xFmt: fd,
            yMajor: [0, 400, 800, 1200], yMinor: [200, 600, 1000], yFmt: fd });
  const sets = [gMXAg, gV2C, gMoS2, gTiO2, gSnO2, gHMn, gNiCo, gCNT, gSMOH, gMnRGO, gMnO2, gThis];
  const cols = ['#1a1a1a', '#4a6fa5', '#ecc21e', '#34c486', '#66668a', '#6f5fae', '#a43cd8', '#f28c8c', '#6faadc', '#1f9494', '#c87a30', '#e02828'];
  const syms = ['circle', 'triRight', 'triRight', 'triDown', 'triRight', 'circle', 'bar', 'triLeft', 'triRight', 'triRight', 'triUp', 'triRight'];
  sets.forEach((s, i) => {
    p.plot.append('path').datum(s)
      .attr('d', d3.line().x(d => p.x(d[0])).y(d => p.y(d[1])).curve(d3.curveMonotoneX))
      .attr('fill', 'none').attr('stroke', cols[i]).attr('stroke-width', 1.6);
    s.forEach(d => mark(p.plot, syms[i], p.x(d[0]), p.y(d[1]), cols[i], 0.85, true));
  });
  gNames.forEach((n, i) => {
    const col = i % 3, row = Math.floor(i / 3), yy = 607 + row * 16.3;
    let tx;
    if (col < 2) {
      tx = col ? 1007 : 907;
      label(tx, yy, n, { size: 10 });
    } else {
      const t = label(1166, yy, n, { size: 10, anchor: 'end' });
      tx = 1166 - t.node().getComputedTextLength();
    }
    svg.append('line').attr('x1', tx - 30).attr('x2', tx - 3).attr('y1', yy - 3).attr('y2', yy - 3)
      .attr('stroke', cols[i]).attr('stroke-width', 1.6);
    mark(svg, syms[i], tx - 16, yy - 3, cols[i], 0.8, true);
  });
  label(999, 866, 'Current density (mA g^{-1})', { size: 18, anchor: 'middle' });
  label(785, 712, 'Specific capacity (mAh g^{-1})', { size: 17, anchor: 'middle', rotate: true });
  letter(792, 604, 'g');
}
</script>
</body>
</html>
